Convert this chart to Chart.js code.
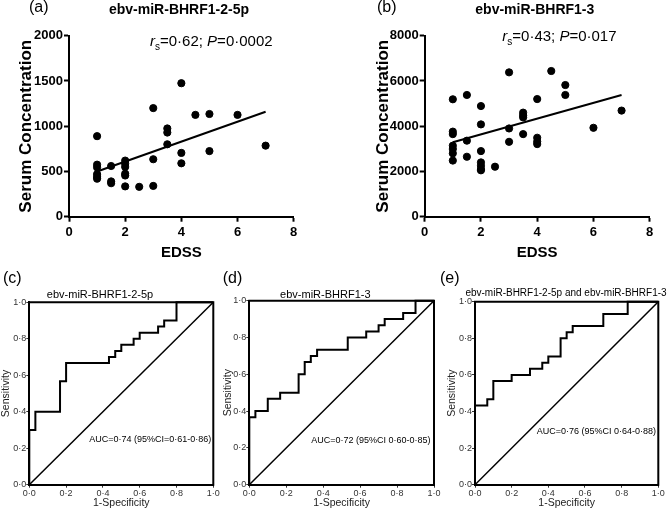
<!DOCTYPE html>
<html>
<head>
<meta charset="utf-8">
<script src="https://cdn.jsdelivr.net/npm/chart.js@4.4.1/dist/chart.umd.min.js"></script>
<style>
html, body { margin: 0; padding: 0; background: #fff; }
#wrap { position: relative; width: 668px; height: 511px; overflow: hidden; }
canvas { position: absolute; }
</style>
</head>
<body>
<div id="wrap">
  <canvas id="chartA" width="334" height="265" style="left:0;top:0"></canvas>
  <canvas id="chartB" width="334" height="265" style="left:334px;top:0"></canvas>
  <canvas id="chartC" width="222" height="246" style="left:0;top:265px"></canvas>
  <canvas id="chartD" width="223" height="246" style="left:222px;top:265px"></canvas>
  <canvas id="chartE" width="233" height="246" style="left:435px;top:265px"></canvas>
</div>
<script>
// EDSS vs serum concentration, ebv-miR-BHRF1-2-5p
const edssA = [1, 1, 1, 1, 1, 1, 1.5, 1.5, 1.5, 2, 2, 2, 2, 2, 2, 2.5, 3, 3, 3, 3.5, 3.5, 3.5, 4, 4, 4, 4.5, 5, 5, 6, 7];
const concA = [890, 575, 545, 470, 440, 420, 560, 390, 370, 620, 585, 550, 475, 455, 335, 330, 1200, 635, 340, 975, 930, 800, 1475, 705, 590, 1125, 1135, 725, 1125, 785];
const fitAx = [1, 7];
const fitAy = [500, 1160];

// EDSS vs serum concentration, ebv-miR-BHRF1-3
const edssB = [1, 1, 1, 1, 1, 1, 1, 1.5, 1.5, 1.5, 2, 2, 2, 2, 2, 2, 2, 2.5, 3, 3, 3, 3.5, 3.5, 3.5, 3.5, 4, 4, 4, 4, 4.5, 5, 5, 6, 7];
const concB = [5190, 3760, 3650, 3140, 2990, 2800, 2480, 5380, 3360, 2650, 4890, 4080, 2900, 2400, 2250, 2100, 2050, 2210, 6380, 3900, 3310, 4600, 4480, 4390, 3650, 5200, 3490, 3320, 3210, 6440, 5820, 5380, 3930, 4690];
const fitBx = [1, 7];
const fitBy = [3290, 5380];

const edssTicks = [0, 2, 4, 6, 8];
const concTicksA = [0, 500, 1000, 1500, 2000];
const concTicksB = [0, 2000, 4000, 6000, 8000];

// ROC curves (1-specificity, sensitivity)
const rocTicks = [0, 0.2, 0.4, 0.6, 0.8, 1.0];
const diagX = [0, 1];
const diagY = [0, 1];
const rocCx = [0, 0, 0.033, 0.033, 0.167, 0.167, 0.2, 0.2, 0.433, 0.433, 0.467, 0.467, 0.5, 0.5, 0.567, 0.567, 0.6, 0.6, 0.7, 0.7, 0.733, 0.733, 0.8, 0.8, 1];
const rocCy = [0, 0.3, 0.3, 0.4, 0.4, 0.567, 0.567, 0.667, 0.667, 0.7, 0.7, 0.733, 0.733, 0.767, 0.767, 0.8, 0.8, 0.833, 0.833, 0.867, 0.867, 0.9, 0.9, 1, 1];
const rocDx = [0, 0, 0.033, 0.033, 0.1, 0.1, 0.167, 0.167, 0.267, 0.267, 0.3, 0.3, 0.333, 0.333, 0.367, 0.367, 0.533, 0.533, 0.633, 0.633, 0.7, 0.7, 0.733, 0.733, 0.833, 0.833, 0.9, 0.9, 1];
const rocDy = [0, 0.367, 0.367, 0.4, 0.4, 0.467, 0.467, 0.5, 0.5, 0.6, 0.6, 0.667, 0.667, 0.7, 0.7, 0.733, 0.733, 0.8, 0.8, 0.833, 0.833, 0.867, 0.867, 0.9, 0.9, 0.933, 0.933, 1, 1];
const rocEx = [0, 0, 0.067, 0.067, 0.1, 0.1, 0.2, 0.2, 0.3, 0.3, 0.367, 0.367, 0.4, 0.4, 0.467, 0.467, 0.5, 0.5, 0.533, 0.533, 0.7, 0.7, 0.833, 0.833, 1];
const rocEy = [0, 0.433, 0.433, 0.467, 0.467, 0.567, 0.567, 0.6, 0.6, 0.633, 0.633, 0.667, 0.667, 0.7, 0.7, 0.8, 0.8, 0.833, 0.833, 0.867, 0.867, 0.933, 0.933, 1, 1];

const sans = '"Liberation Sans", Arial, Helvetica, sans-serif';
const narrow = '"Liberation Sans Narrow", "Arial Narrow", "Liberation Sans", sans-serif';

const toPoints = (xs, ys) => xs.map((x, i) => ({ x: x, y: ys[i] }));
const dot = v => v.toFixed(1).replace('.', '\u00b7');

// free text: panel letters, titles, statistics
const panelText = {
  id: 'panelText',
  afterDraw(chart, args, opts) {
    const ctx = chart.ctx;
    ctx.save();
    ctx.fillStyle = '#000';
    (opts.items || []).forEach(item => {
      const runs = item.runs || [{ text: item.text }];
      ctx.textBaseline = item.baseline || 'alphabetic';
      ctx.textAlign = 'left';
      let total = 0;
      runs.forEach(r => { ctx.font = r.font || item.font; total += ctx.measureText(r.text).width; });
      let x = item.align === 'center' ? item.x - total / 2 : item.x;
      runs.forEach(r => {
        ctx.font = r.font || item.font;
        ctx.fillText(r.text, x, item.y + (r.dy || 0));
        x += ctx.measureText(r.text).width;
      });
    });
    ctx.restore();
  }
};

// top and right sides of the ROC box
const frame = {
  id: 'frame',
  afterDraw(chart, args, opts) {
    if (!opts.show) return;
    const a = chart.chartArea;
    const ctx = chart.ctx;
    ctx.save();
    ctx.strokeStyle = '#000';
    ctx.lineWidth = 2;
    ctx.beginPath();
    ctx.moveTo(a.left - 1, a.top);
    ctx.lineTo(a.right, a.top);
    ctx.lineTo(a.right, a.bottom + 1);
    ctx.stroke();
    ctx.restore();
  }
};

function scatterScales(yTicks, yMax, yWidth, yTitlePad) {
  const tickFont = { family: narrow, size: 13, weight: 'bold' };
  return {
    x: {
      type: 'linear', min: 0, max: 8,
      afterBuildTicks: s => { s.ticks = edssTicks.map(v => ({ value: v })); },
      afterFit: s => { s.height = 48.3; },
      border: { color: '#000', width: 2 },
      grid: { drawOnChartArea: false, tickLength: 5, tickColor: '#000', tickWidth: 2 },
      ticks: { color: '#000', font: tickFont, padding: 3, maxRotation: 0, callback: v => String(v) },
      title: { display: true, text: 'EDSS', color: '#000', font: { family: sans, size: 15, weight: 'bold' }, padding: { top: 0, bottom: 3 } }
    },
    y: {
      type: 'linear', min: 0, max: yMax,
      afterBuildTicks: s => { s.ticks = yTicks.map(v => ({ value: v })); },
      afterFit: s => { s.width = yWidth; },
      border: { color: '#000', width: 2 },
      grid: { drawOnChartArea: false, tickLength: 5, tickColor: '#000', tickWidth: 2 },
      ticks: { color: '#000', font: tickFont, padding: 1, callback: v => String(v) },
      title: { display: true, text: 'Serum Concentration', color: '#000', font: { family: sans, size: 17, weight: 'bold' }, padding: { top: yTitlePad, bottom: 0 } }
    }
  };
}

function rocScales(yWidth, yTitlePad) {
  const tickFont = { family: sans, size: 9 };
  return {
    x: {
      type: 'linear', min: 0, max: 1,
      afterBuildTicks: s => { s.ticks = rocTicks.map(v => ({ value: v })); },
      afterFit: s => { s.height = 26.3; },
      border: { color: '#000', width: 2 },
      grid: { drawOnChartArea: false, tickLength: 3, tickColor: '#333', tickWidth: 1 },
      ticks: { color: '#333', font: tickFont, padding: 0, maxRotation: 0, callback: v => dot(v) },
      title: { display: true, text: '1-Specificity', color: '#222', font: { family: sans, size: 10.5 }, padding: { top: 0, bottom: 2 } }
    },
    y: {
      type: 'linear', min: 0, max: 1,
      afterBuildTicks: s => { s.ticks = rocTicks.map(v => ({ value: v })); },
      afterFit: s => { s.width = yWidth; },
      border: { color: '#000', width: 2 },
      grid: { drawOnChartArea: false, tickLength: 3, tickColor: '#333', tickWidth: 1 },
      ticks: { color: '#333', font: tickFont, padding: 0, callback: v => dot(v) },
      title: { display: true, text: 'Sensitivity', color: '#222', font: { family: sans, size: 10.5 }, padding: { top: yTitlePad, bottom: 0 } }
    }
  };
}

function scatterChart(id, xs, ys, fx, fy, yTicks, yMax, yWidth, yTitlePad, padRight, texts) {
  return new Chart(document.getElementById(id), {
    type: 'scatter',
    data: {
      datasets: [{
        data: toPoints(xs, ys),
        backgroundColor: '#000',
        borderColor: '#000',
        pointRadius: 3.6,
        pointHoverRadius: 3.6
      }, {
        type: 'line',
        data: toPoints(fx, fy),
        borderColor: '#000',
        borderWidth: 2,
        pointRadius: 0,
        fill: false
      }]
    },
    options: {
      responsive: false,
      animation: false,
      devicePixelRatio: 1,
      layout: { padding: { left: 0, top: 35.7, right: padRight, bottom: 0 } },
      plugins: { legend: { display: false }, tooltip: { enabled: false }, panelText: { items: texts } },
      scales: scatterScales(yTicks, yMax, yWidth, yTitlePad)
    },
    plugins: [panelText]
  });
}

function rocChart(id, xs, ys, yWidth, yTitlePad, padTop, padRight, texts) {
  return new Chart(document.getElementById(id), {
    type: 'line',
    data: {
      datasets: [{
        data: toPoints(xs, ys),
        borderColor: '#000',
        borderWidth: 2,
        pointRadius: 0,
        fill: false,
        clip: false
      }, {
        data: toPoints(diagX, diagY),
        borderColor: '#000',
        borderWidth: 1.5,
        pointRadius: 0,
        fill: false
      }]
    },
    options: {
      responsive: false,
      animation: false,
      devicePixelRatio: 1,
      layout: { padding: { left: 0, top: padTop, right: padRight, bottom: 0 } },
      plugins: { legend: { display: false }, tooltip: { enabled: false }, frame: { show: true }, panelText: { items: texts } },
      scales: rocScales(yWidth, yTitlePad)
    },
    plugins: [frame, panelText]
  });
}

const letterFont = '16px ' + sans;
const statRuns = (rs, p) => [
  { text: 'r', font: 'italic 15px ' + sans },
  { text: 's', font: '10px ' + sans, dy: 4 },
  { text: '=' + rs + '; ', font: '15px ' + sans },
  { text: 'P', font: 'italic 15px ' + sans },
  { text: '=' + p, font: '15px ' + sans }
];

// Scatter (a)
scatterChart('chartA', edssA, concA, fitAx, fitAy, concTicksA, 2000, 69, 16, 40.3, [
  { text: '(a)', font: letterFont, x: 29, y: 11.7 },
  { text: 'ebv-miR-BHRF1-2-5p', font: 'bold 14px ' + sans, x: 179, y: 14, align: 'center' },
  { runs: statRuns('0\u00b762', '0\u00b70002'), x: 150, y: 45.5 }
]);

// Scatter (b)
scatterChart('chartB', edssB, concB, fitBx, fitBy, concTicksB, 8000, 90.7, 39, 18.3, [
  { text: '(b)', font: letterFont, x: 43, y: 11.7 },
  { text: 'ebv-miR-BHRF1-3', font: 'bold 14px ' + sans, x: 200.8, y: 14, align: 'center' },
  { runs: statRuns('0\u00b743', '0\u00b7017'), x: 168.3, y: 40.5 }
]);

// ROC (c)
rocChart('chartC', rocCx, rocCy, 29.3, 0, 37.3, 8.7, [
  { text: '(c)', font: letterFont, x: 3, y: 18.4 },
  { text: 'ebv-miR-BHRF1-2-5p', font: '11px ' + sans, x: 100, y: 30, align: 'center', baseline: 'middle' },
  { text: 'AUC=0\u00b774 (95%CI=0\u00b761-0\u00b786)', font: '9px ' + sans, x: 89.3, y: 175, baseline: 'middle' }
]);

// ROC (d)
rocChart('chartD', rocDx, rocDy, 27.3, 0, 35.7, 11, [
  { text: '(d)', font: letterFont, x: 0.7, y: 18.4 },
  { text: 'ebv-miR-BHRF1-3', font: '11px ' + sans, x: 103.3, y: 30, align: 'center', baseline: 'middle' },
  { text: 'AUC=0\u00b772 (95%CI 0\u00b760-0\u00b785)', font: '9px ' + sans, x: 89.3, y: 175.7, baseline: 'middle' }
]);

// ROC (e)
rocChart('chartE', rocEx, rocEy, 40, 11, 36.7, 9.7, [
  { text: '(e)', font: letterFont, x: 5, y: 18.4 },
  { text: 'ebv-miR-BHRF1-2-5p and ebv-miR-BHRF1-3', font: '10px ' + sans, x: 131, y: 28.3, align: 'center', baseline: 'middle' },
  { text: 'AUC=0\u00b776 (95%CI 0\u00b764-0\u00b788)', font: '9px ' + sans, x: 101.7, y: 166.7, baseline: 'middle' }
]);
</script>
</body>
</html>
